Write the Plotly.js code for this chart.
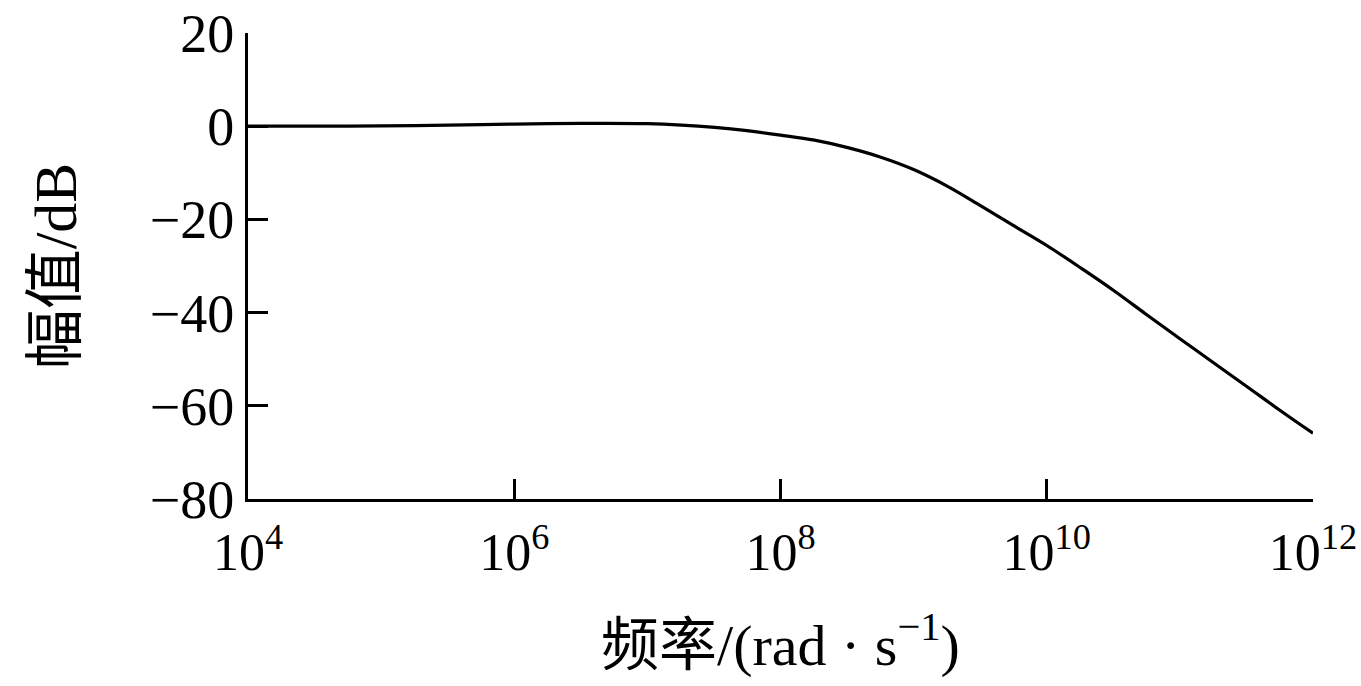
<!DOCTYPE html>
<html>
<head>
<meta charset="utf-8">
<script src="https://cdn.plot.ly/plotly-3.0.1.min.js"></script>
<style>
html,body{margin:0;padding:0;background:#fff;}
#chart{width:1361px;height:686px;}
</style>
</head>
<body>
<div id="chart"></div>
<script>
// frequency (rad/s) and magnitude (dB)
const freq = [1e4, 3.2e4, 1e5, 3.2e5, 1e6, 3.2e6, 1e7, 1.8e7, 3.2e7, 5.6e7, 1e8, 1.8e8, 3.2e8, 5.6e8, 1e9, 1.8e9, 3.2e9, 5.6e9, 1e10, 1.8e10, 3.2e10, 5.6e10, 1e11, 1.8e11, 3.2e11, 5.6e11, 1e12];
const magDb = [0, 0, 0.05, 0.25, 0.45, 0.6, 0.55, 0.25, -0.25, -0.95, -1.9, -3.0, -4.6, -6.6, -9.3, -12.9, -17.1, -21.3, -25.6, -30.4, -35.3, -40.4, -45.6, -50.8, -55.9, -60.9, -65.9];

const xTickVals = [1e4, 1e6, 1e8, 1e10, 1e12];
const xTickText = ['10<sup>4</sup>', '10<sup>6</sup>', '10<sup>8</sup>', '10<sup>10</sup>', '10<sup>12</sup>'];
const yTickVals = [-80, -60, -40, -20, 0, 20];

const xTitle = '频率/(rad · s<sup>−1</sup>)';
const yTitle = '幅值/dB';

const fontFam = '"Liberation Serif", "Times New Roman", "Noto Sans CJK SC", serif';

const trace = {
  x: freq,
  y: magDb,
  type: 'scatter',
  mode: 'lines',
  line: {color: '#000', width: 3.2, shape: 'spline', smoothing: 1},
  hoverinfo: 'skip'
};

const layout = {
  width: 1361,
  height: 686,
  margin: {l: 248, r: 48, t: 33, b: 187},
  paper_bgcolor: '#fff',
  plot_bgcolor: '#fff',
  showlegend: false,
  font: {family: fontFam, color: '#000'},
  xaxis: {
    type: 'log',
    range: [4, 12],
    tickmode: 'array',
    tickvals: xTickVals,
    ticktext: xTickText,
    ticks: 'inside',
    ticklen: 20,
    tickwidth: 3,
    tickcolor: '#000',
    showline: true,
    linewidth: 3,
    linecolor: '#000',
    showgrid: false,
    zeroline: false,
    tickfont: {family: fontFam, size: 52, color: '#000'},
    ticklabelstandoff: 6,
    title: {text: xTitle, font: {family: fontFam, size: 58, color: '#000'}, standoff: 44}
  },
  yaxis: {
    range: [-80, 20],
    tickmode: 'array',
    tickvals: yTickVals,
    ticks: 'inside',
    ticklen: 20,
    tickwidth: 3,
    tickcolor: '#000',
    showline: true,
    linewidth: 3,
    linecolor: '#000',
    showgrid: false,
    zeroline: false,
    tickfont: {family: fontFam, size: 54, color: '#000'},
    ticklabelstandoff: 0,
    title: {text: yTitle, font: {family: fontFam, size: 60, color: '#000'}, standoff: 54}
  }
};

Plotly.newPlot('chart', [trace], layout, {displayModeBar: false, staticPlot: true});
</script>
</body>
</html>
